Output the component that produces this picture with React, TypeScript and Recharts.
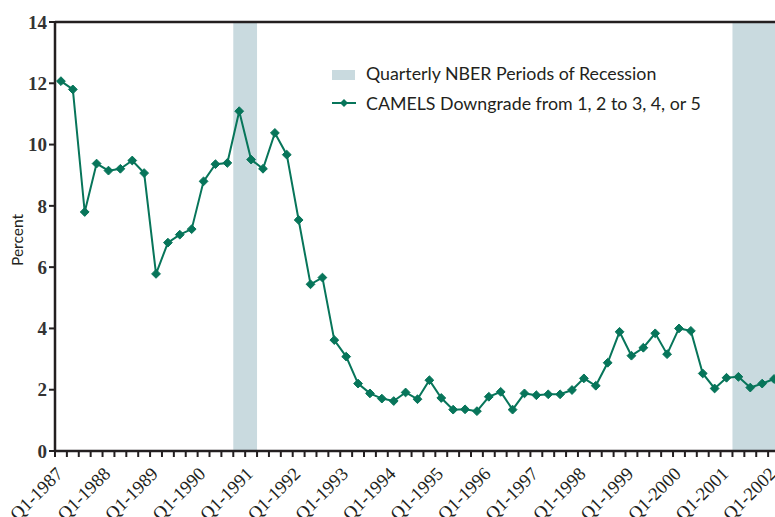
import React from "react";
import {
  ComposedChart,
  Line,
  XAxis,
  YAxis,
  ReferenceArea,
  ReferenceLine,
} from "recharts";

const years = [1987, 1988, 1989, 1990, 1991, 1992, 1993, 1994, 1995, 1996, 1997, 1998, 1999, 2000, 2001, 2002];
const quarterNames = ["Q1", "Q2", "Q3", "Q4"];
const quarters = years
  .flatMap((y) => quarterNames.map((q) => `${q}-${y}`))
  .slice(0, 61);

// CAMELS downgrade from 1,2 to 3,4,5 (percent)
const downgradeRate = [
  12.07, 11.8, 7.8, 9.38, 9.15, 9.21, 9.48, 9.07,
  5.78, 6.8, 7.06, 7.24, 8.8, 9.36, 9.4, 11.09,
  9.51, 9.21, 10.38, 9.67, 7.54, 5.44, 5.66, 3.62,
  3.08, 2.2, 1.88, 1.71, 1.63, 1.91, 1.69, 2.31,
  1.73, 1.35, 1.36, 1.3, 1.77, 1.93, 1.35, 1.88,
  1.82, 1.85, 1.85, 1.99, 2.37, 2.13, 2.88, 3.89,
  3.11, 3.37, 3.84, 3.16, 4.0, 3.92, 2.53, 2.04,
  2.39, 2.42, 2.07, 2.2, 2.35,
];

const recessions = [
  { start: "Q4-1990", end: "Q1-1991" },
  { start: "Q2-2001", end: "Q1-2002" },
];

const yTicks = [0, 2, 4, 6, 8, 10, 12, 14];

const data = quarters.map((q, i) => ({ idx: i, quarter: q, rate: downgradeRate[i] }));
const boundaryTicks = data.map((d) => d.idx - 0.5).concat([data.length - 0.5]);

const LINE = "#07755a";
const BAND = "#c9dadf";
const INK = "#231f20";

const CHART_W = 800;
const MARGIN_R = 20;
const YAXIS_W = 55;

const Diamond = (props: any) => {
  const { cx, cy } = props;
  if (cx == null || cy == null) return null;
  const r = 4.4;
  return (
    <polygon
      points={`${cx},${cy - r} ${cx + r},${cy} ${cx},${cy + r} ${cx - r},${cy}`}
      fill={LINE}
      stroke={LINE}
      strokeWidth={1}
    />
  );
};

const XTick = (props: any) => {
  const { x, y, payload } = props;
  const center = payload.value + 0.5;
  const label = quarters[center];
  if (!label || !label.startsWith("Q1")) return <g />;
  const axisW = typeof props.width === "number" && props.width > 100 ? props.width : CHART_W - MARGIN_R - YAXIS_W;
  const half = axisW / (boundaryTicks.length - 1) / 2;
  return (
    <g transform={`translate(${x + half + 3},${y + 16}) rotate(-45)`}>
      <text
        x={0}
        y={0}
        textAnchor="end"
        fontFamily="Liberation Serif"
        fontSize={18.5}
        fill={INK}
      >
        {label}
      </text>
    </g>
  );
};

const legendStyle: React.CSSProperties = {
  position: "absolute",
  left: 332,
  top: 58,
  fontFamily: "Lato",
  fontSize: 17.8,
  color: INK,
  lineHeight: "30px",
  whiteSpace: "nowrap",
};

export default function App() {
  return (
    <div style={{ position: "absolute", left: 0, top: 0, width: 775, height: 517, overflow: "hidden", background: "#fff" }}>
      <ComposedChart
        width={CHART_W}
        height={517}
        data={data}
        margin={{ top: 22, right: MARGIN_R, bottom: 0, left: 0 }}
      >
        {recessions.map((r, i) => (
          <ReferenceArea
            key={i}
            x1={quarters.indexOf(r.start) - 0.5}
            x2={quarters.indexOf(r.end) + 0.5}
            y1={0}
            y2={14}
            fill={BAND}
            fillOpacity={1}
            stroke="none"
            ifOverflow="visible"
          />
        ))}
        <XAxis
          type="number"
          dataKey="idx"
          domain={[-0.5, data.length - 0.5]}
          allowDataOverflow
          ticks={boundaryTicks}
          interval={0}
          tick={<XTick />}
          tickSize={6}
          tickMargin={2}
          height={66}
          axisLine={{ stroke: INK, strokeWidth: 2.5 }}
          tickLine={{ stroke: INK, strokeWidth: 2 }}
        />
        <YAxis
          type="number"
          domain={[0, 14]}
          allowDataOverflow
          ticks={yTicks}
          interval={0}
          width={YAXIS_W}
          tickSize={6}
          tickMargin={2}
          axisLine={{ stroke: INK, strokeWidth: 2.5 }}
          tickLine={{ stroke: INK, strokeWidth: 2 }}
          tick={{ fontFamily: "Liberation Serif", fontWeight: "bold", fontSize: 19, fill: "#333" }}
          label={{
            content: () => (
              <text
                x={17}
                y={240}
                transform="rotate(-90 17 240)"
                textAnchor="middle"
                dominantBaseline="central"
                fontFamily="Lato"
                fontSize={15.5}
                fill={INK}
              >
                Percent
              </text>
            ),
          }}
        />
        <ReferenceLine y={14} stroke={INK} strokeWidth={2.5} ifOverflow="visible" />
        <Line
          type="linear"
          dataKey="rate"
          stroke={LINE}
          strokeWidth={2}
          dot={<Diamond />}
          activeDot={false}
          isAnimationActive={false}
        />
      </ComposedChart>
      <div style={legendStyle}>
        <div style={{ display: "flex", alignItems: "center", height: 30 }}>
          <span style={{ display: "inline-block", width: 23, height: 10, background: BAND, marginRight: 11, marginTop: 4 }} />
          <span>Quarterly NBER Periods of Recession</span>
        </div>
        <div style={{ display: "flex", alignItems: "center", height: 30 }}>
          <svg width={24} height={12} style={{ marginRight: 10 }}>
            <line x1={0} y1={6} x2={24} y2={6} stroke={LINE} strokeWidth={2} />
            <polygon points="12,2 16,6 12,10 8,6" fill={LINE} />
          </svg>
          <span>CAMELS Downgrade from 1, 2 to 3, 4, or 5</span>
        </div>
      </div>
    </div>
  );
}
